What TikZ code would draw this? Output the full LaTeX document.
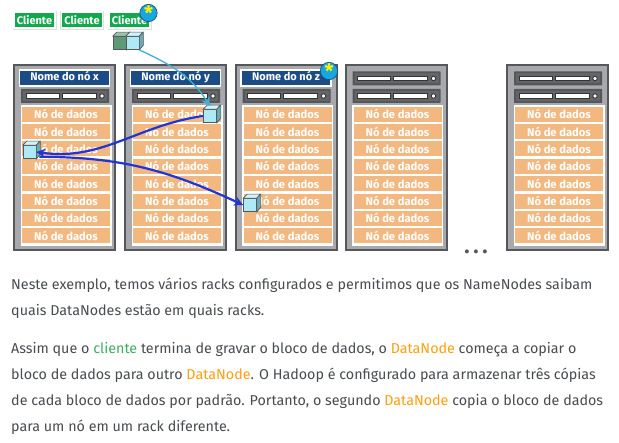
\documentclass[tikz,border=0pt]{standalone}
\usepackage{fontspec}
\setmainfont{Fira Sans}
\usetikzlibrary{arrows.meta}
\definecolor{bodytxt}{HTML}{484C50}
\definecolor{clientgreen}{HTML}{12A84E}
\definecolor{txtgreen}{HTML}{3FAE63}
\definecolor{txtorange}{HTML}{FF9F0F}
\definecolor{rowfill}{HTML}{F2B880}
\definecolor{rackgray}{HTML}{A7A9AC}
\definecolor{rackline}{HTML}{55575A}
\definecolor{namefill}{HTML}{1C4C86}
\definecolor{cubefront}{HTML}{AEE9F6}
\definecolor{cubetop}{HTML}{CFF3F8}
\definecolor{cubeside}{HTML}{6FA9B3}
\definecolor{greenfront}{HTML}{5E9A78}
\definecolor{greentop}{HTML}{9CC4AA}
\definecolor{greenside}{HTML}{3E7556}
\definecolor{badgeblue}{HTML}{16A6E0}
\definecolor{arrowblue}{HTML}{1F35D8}
\definecolor{arrowcyan}{HTML}{3FB2D6}
% cube: name, x, y of the front face, three fills
\newcommand{\cube}[6]{
    \node[cubeface, fill=#4] (#1) at (#2,#3) {};
    \fill[#5, draw=rackline, line width=0.7pt] (#1.north west) -- ++(4,-4) -- ++(13,0) -- (#1.north east) -- cycle;
    \fill[#6, draw=rackline, line width=0.7pt] (#1.north east) -- ++(4,-4) -- ++(0,13) -- (#1.south east) -- cycle;
}
% server slot: left edge and top of the slot
\newcommand{\slot}[2]{
    \fill[rackline, rounded corners=0.5pt] (#1,#2) rectangle ++(88,14);
    \fill[rackgray!60!black] (#1+2,#2+2) rectangle ++(84,10);
    \fill[white, draw=rackline!60!black, line width=0.8pt] (#1+5,#2+4.5) rectangle ++(33,4.5);
    \fill[white, draw=rackline!60!black, line width=0.8pt] (#1+41,#2+4.5) rectangle ++(34,4.5);
    \fill[white, draw=rackline!60!black, line width=0.9pt] (#1+81,#2+7) circle (2.2);
}
\begin{document}
\begin{tikzpicture}[
        x=1pt, y=-1pt,
        >={Stealth[length=9pt, width=9pt, inset=3pt]},
        rackbox/.style={draw=rackline, fill=rackgray, line width=2.2pt, minimum width=101pt, minimum height=185pt, inner sep=0pt},
        panel/.style={fill=white, minimum width=91pt, minimum height=141pt, inner sep=0pt},
        datarow/.style={fill=rowfill, text=white, minimum width=88pt, minimum height=15pt, inner sep=0pt, font=\fontsize{11.2}{12}\selectfont\bfseries},
        namebox/.style={fill=namefill, draw=white, line width=1.6pt, text=white, minimum width=90pt, minimum height=16.5pt, inner sep=0pt, text height=7.5pt, text depth=2.5pt, font=\fontsize{11}{12}\selectfont\bfseries},
        clientbox/.style={fill=clientgreen, draw=white, line width=1.5pt, text=white, minimum width=41pt, minimum height=16pt, inner sep=0pt, font=\fontsize{11}{12}\selectfont\bfseries},
        shadowbox/.style={fill=black!12, minimum width=44pt, minimum height=19pt, inner sep=0pt},
        badge/.style={circle, fill=badgeblue, draw=namefill, line width=0.7pt, text=yellow, minimum size=15.5pt, inner sep=0pt, font=\fontsize{20}{20}\selectfont\bfseries},
        cubeface/.style={draw=rackline, line width=0.7pt, minimum size=13pt, inner sep=0pt},
        para/.style={anchor=base west, text=bodytxt, inner sep=0pt, font=\fontsize{14.3}{16}\selectfont},
        dots/.style={text=rackline, inner sep=0pt, font=\fontsize{22}{22}\selectfont\bfseries}
    ]
        \useasboundingbox (0,0) rectangle (619,443);
        \fill[white] (0,0) rectangle (619,443);

        % Clients
        \foreach \i/\x in {1/34.5,2/82,3/129.5} {
            \node[shadowbox] at (\x,21) {};
            \node[clientbox] (client\i) at (\x,20) {Cliente};
        }
        \node[badge] (clientstar) at (148.5,13) {\raisebox{-6pt}{*}};

        % Racks
        \foreach \i/\x in {1/13,2/124,3/234.5,4/344.5,5/506} {
            \node[rackbox] (rack\i) at (\x+51.7,157.5) {};
            \slot{\x+8}{89}
            \node[panel] (panel\i) at (\x+53,175.5) {};
            \foreach \j in {1,...,8} {
                \node[datarow] (row\i\j) at (\x+53,114.3+\j*17.35-17.35) {Nó de dados};
            }
        }
        \slot{344.5+8}{71.5}
        \slot{506+8}{71.5}

        % Name boxes
        \node[namebox] (namex) at (64.5,78) {Nome do nó x};
        \node[namebox] (namey) at (175.5,78) {Nome do nó y};
        \node[namebox] (namez) at (286,78) {Nome do nó z};
        \node[badge] (namestar) at (329,71) {\raisebox{-6pt}{*}};

        % Ellipsis after the racks
        \node[dots] (ellipsis) at (476,252) {.\,.\,.};

        % Block copies
        \cube{blockgreen}{119.5}{43}{greenfront}{greentop}{greenside}
        \cube{blockclient}{132.5}{43}{cubefront}{cubetop}{cubeside}
        \cube{blocky}{210}{116}{cubefront}{cubetop}{cubeside}
        \cube{blockx}{29.5}{152}{cubefront}{cubetop}{cubeside}
        \cube{blockz}{250}{205}{cubefront}{cubetop}{cubeside}

        % Copy arrows
        \draw[->, arrowcyan, line width=1.3pt] (blockclient.south east) to[out=-25, in=122] ([yshift=3pt]blocky.north);
        \draw[->, arrowblue, line width=2.2pt] (blocky.west) to[out=188, in=-8] (blockx.east);
        \draw[->, arrowblue, line width=2.2pt] (blockx.south east) ++(3,-2) to[out=0, in=155] (blockz.west);

        % Text below
        \node[para] (line1) at (11,290) {Neste exemplo, temos vários racks configurados e permitimos que os NameNodes saibam};
        \node[para] (line2) at (11,316) {quais DataNodes estão em quais racks.};
        \node[para] (line3) at (11,354) {Assim que o \textcolor{txtgreen}{cliente} termina de gravar o bloco de dados, o \textcolor{txtorange}{DataNode} começa a copiar o};
        \node[para] (line4) at (11,380) {bloco de dados para outro \textcolor{txtorange}{DataNode}. O Hadoop é configurado para armazenar três cópias};
        \node[para] (line5) at (11,406) {de cada bloco de dados por padrão. Portanto, o segundo \textcolor{txtorange}{DataNode} copia o bloco de dados};
        \node[para] (line6) at (11,432) {para um nó em um rack diferente.};
    \end{tikzpicture}
\end{document}
